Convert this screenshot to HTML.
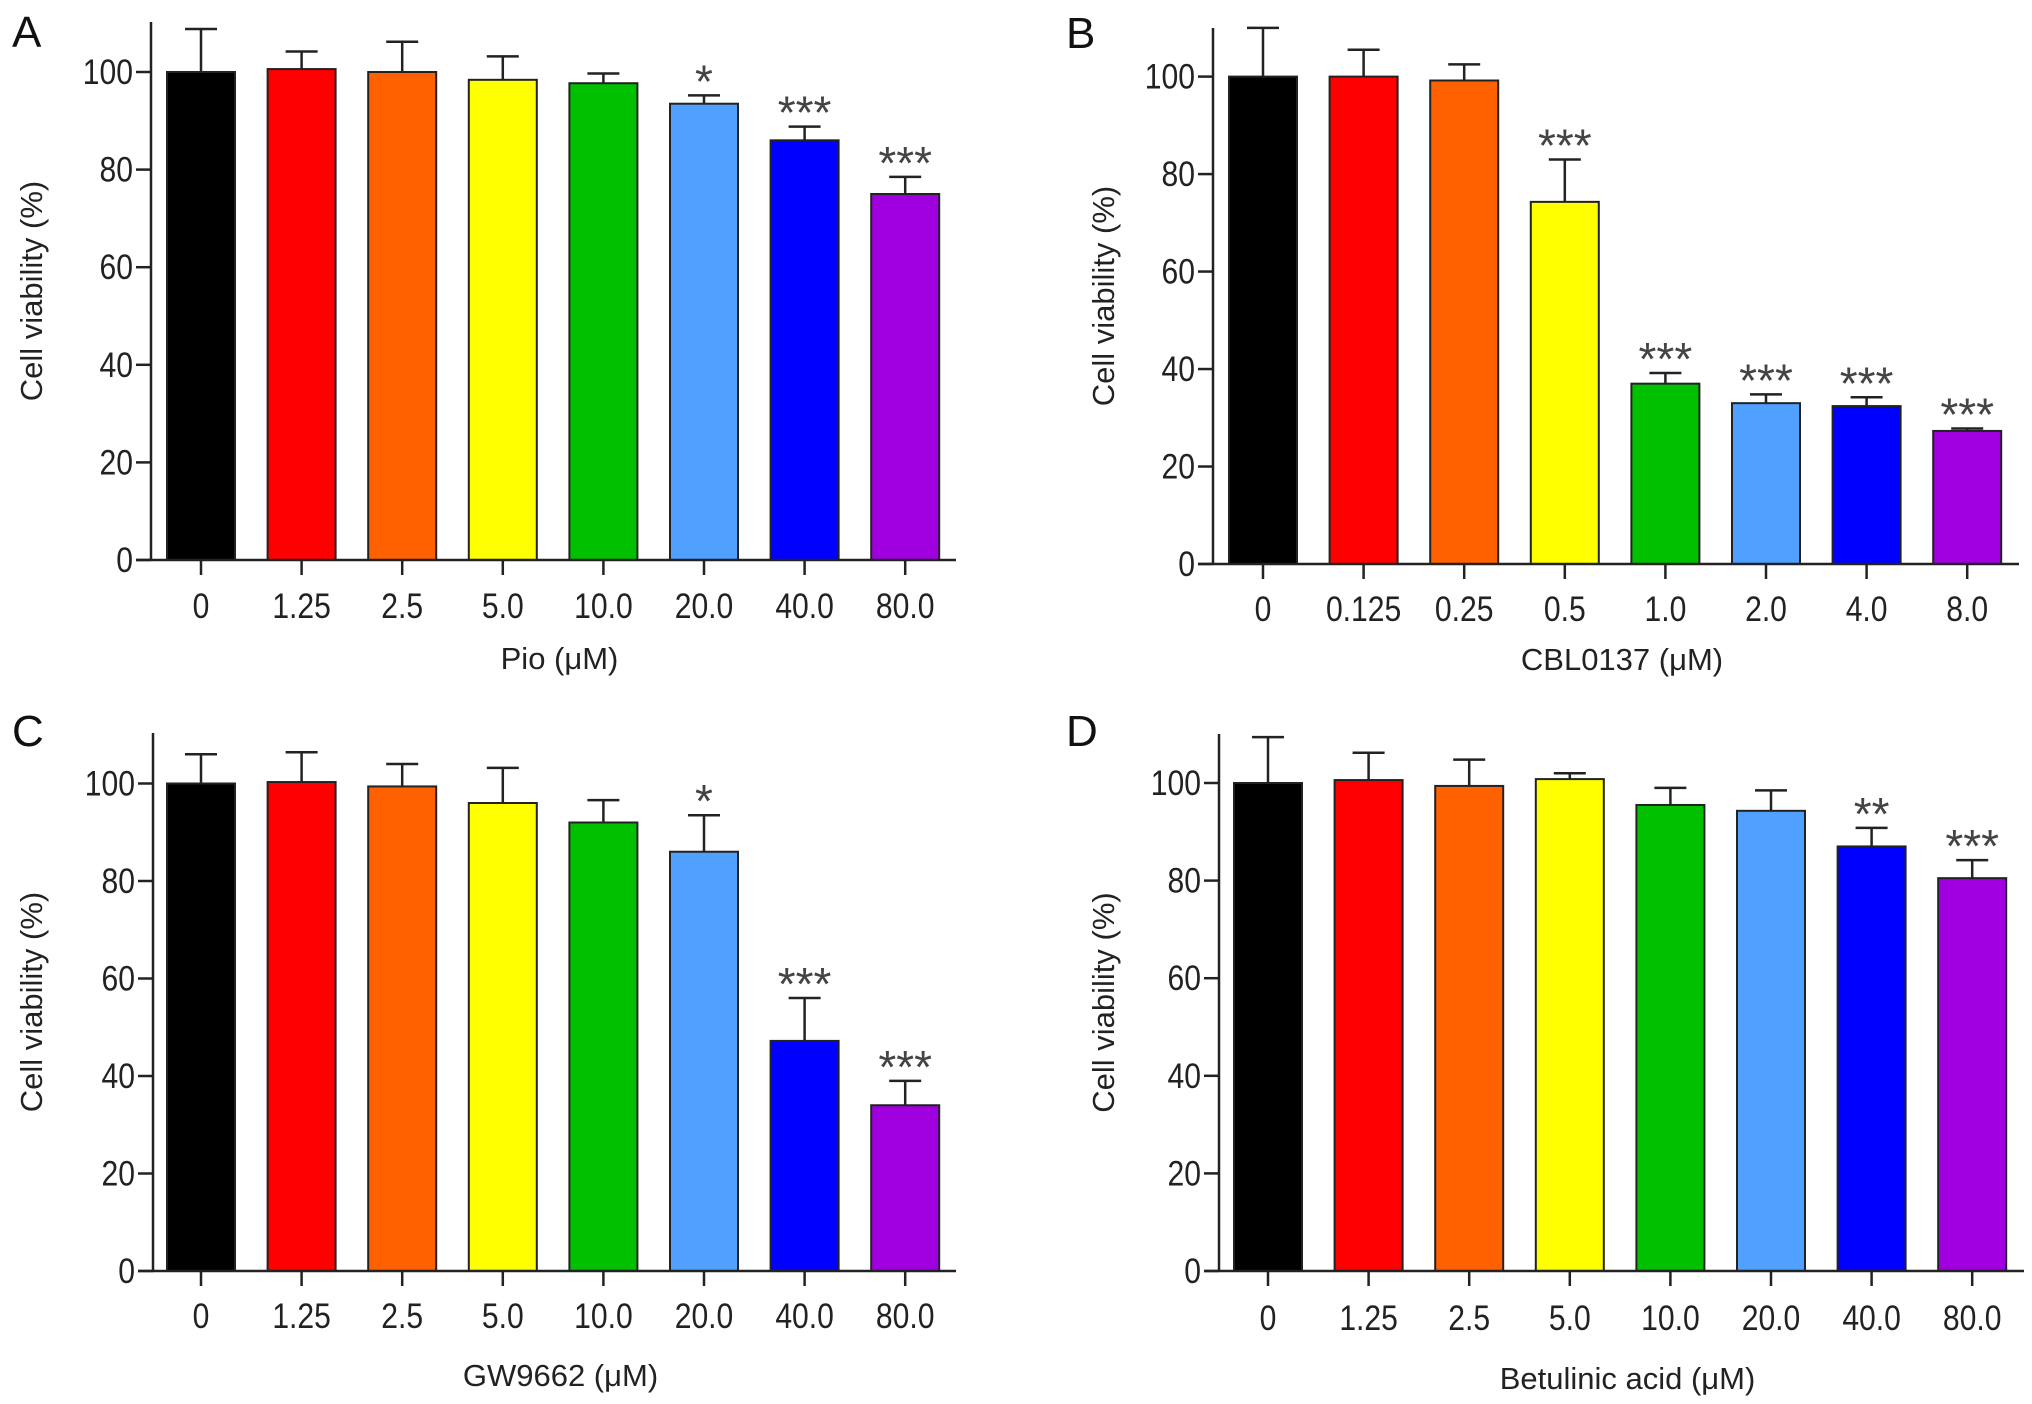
<!DOCTYPE html>
<html><head><meta charset="utf-8"><style>
html,body{margin:0;padding:0;background:#fff;}
svg{display:block;font-family:"Liberation Sans",Arial,sans-serif;}
</style></head><body>
<svg id="fig" width="2032" height="1404" viewBox="0 0 2032 1404"></svg>
<script>
const colors=["#000000","#ff0000","#ff6000","#ffff00","#00c000","#50a0ff","#0000ff","#a000e0"];
const yTicks=[0,20,40,60,80,100];
const catsA=["0","1.25","2.5","5.0","10.0","20.0","40.0","80.0"];
const valsA=[100,100.6,100,98.4,97.7,93.5,86,75];
const errA=[8.8,3.6,6.2,4.8,2,1.7,2.8,3.5];
const sigA=["","","","","","*","***","***"];
const catsB=["0","0.125","0.25","0.5","1.0","2.0","4.0","8.0"];
const valsB=[100,100,99.2,74.3,37,33,32.4,27.3];
const errB=[10,5.5,3.3,8.7,2.2,1.8,1.8,0.5];
const sigB=["","","","***","***","***","***","***"];
const catsC=["0","1.25","2.5","5.0","10.0","20.0","40.0","80.0"];
const valsC=[100,100.3,99.4,96,92,86,47.2,34];
const errC=[6,6.1,4.6,7.2,4.6,7.5,8.8,5];
const sigC=["","","","","","*","***","***"];
const catsD=["0","1.25","2.5","5.0","10.0","20.0","40.0","80.0"];
const valsD=[100,100.6,99.4,100.8,95.5,94.3,87,80.5];
const errD=[9.4,5.6,5.4,1.2,3.5,4.2,3.8,3.7];
const sigD=["","","","","","","**","***"];

const NS="http://www.w3.org/2000/svg";
const svg=document.getElementById('fig');
function mk(tag,attrs,parent,text){const e=document.createElementNS(NS,tag);for(const k in attrs)e.setAttribute(k,attrs[k]);if(text!==undefined)e.textContent=text;parent.appendChild(e);return e;}

function panel(p){
  const g=mk('g',{},svg);
  
  
  const y=v=>p.y0-(p.y0-p.y100)*v/100;
  const x=i=>p.x1+i*p.step;
  p.vals.forEach((v,i)=>{
    const top=y(v+p.err[i]);
    const el=mk('line',{x1:x(i),x2:x(i),y1:y(v),y2:top,stroke:'#222','stroke-width':2.5},g);
    
    
    const cap=mk('line',{x1:x(i)-16,x2:x(i)+16,y1:top,y2:top,stroke:'#222','stroke-width':2.5},g);
    
    
    const r=mk('rect',{x:x(i)-34,y:y(v),width:68,height:p.y0-y(v),fill:colors[i],stroke:'#222','stroke-width':2},g);
    
    
    if(p.sig[i]){
      const s=mk('text',{x:x(i),y:top+2,'text-anchor':'middle','font-size':46,fill:'#444'},g,p.sig[i]);
      
      
    }
    const tk=mk('line',{x1:x(i),x2:x(i),y1:p.y0,y2:p.y0+15,stroke:'#222','stroke-width':2.5},g);
    
    
    const tl=mk('text',{x:0,y:0,'text-anchor':'middle','font-size':35,fill:'#222',transform:`translate(${x(i)},${p.tickY+12}) scale(0.86,1)`},g,p.cats[i]);
    
    
  });
  const ya=mk('line',{x1:p.ax,x2:p.ax,y1:p.top,y2:p.y0+1,stroke:'#222','stroke-width':2.5},g);
  
  
  const xa=mk('line',{x1:p.ax-15,x2:p.end,y1:p.y0,y2:p.y0,stroke:'#222','stroke-width':2.5},g);
  
  
  yTicks.forEach(t=>{
    const tk=mk('line',{x1:p.ax-15,x2:p.ax,y1:y(t),y2:y(t),stroke:'#222','stroke-width':2.5},g);
    
    
    const tl=mk('text',{x:0,y:0,'text-anchor':'end','font-size':35,fill:'#222',transform:`translate(${p.ax-18},${y(t)+12}) scale(0.86,1)`},g,String(t));
    
    
  });
  const yt=mk('text',{x:0,y:0,'text-anchor':'middle','font-size':31,fill:'#222',transform:`translate(${p.ytx},${(p.y0+p.top)/2}) rotate(-90)`},g,'Cell viability (%)');
  
  
  const xt=mk('text',{x:(p.ax+p.end)/2+6,y:p.titleY+11,'text-anchor':'middle','font-size':31,fill:'#222'},g,p.title);
  
  
  const L=mk('text',{x:p.lx,y:p.ly,'font-size':44,fill:'#111'},g,p.letter);
  
  
}
panel({letter:'A',cats:catsA,vals:valsA,err:errA,sig:sigA,ax:151,y0:560,y100:72,top:22,end:956,x1:201,step:100.6,tickY:606,titleY:658,ytx:42,title:'Pio (\u03bcM)',lx:12,ly:47});
panel({letter:'B',cats:catsB,vals:valsB,err:errB,sig:sigB,ax:1213,y0:564,y100:76.6,top:28,end:2019,x1:1263,step:100.6,tickY:609,titleY:659,ytx:1114,title:'CBL0137 (\u03bcM)',lx:1066,ly:48});
panel({letter:'C',cats:catsC,vals:valsC,err:errC,sig:sigC,ax:153,y0:1271,y100:783.5,top:733,end:956,x1:201,step:100.6,tickY:1316,titleY:1375,ytx:42,title:'GW9662 (\u03bcM)',lx:12,ly:746});
panel({letter:'D',cats:catsD,vals:valsD,err:errD,sig:sigD,ax:1219,y0:1271,y100:783,top:734,end:2024,x1:1268,step:100.6,tickY:1318,titleY:1378,ytx:1114,title:'Betulinic acid (\u03bcM)',lx:1066,ly:746});
</script>
</body></html>
